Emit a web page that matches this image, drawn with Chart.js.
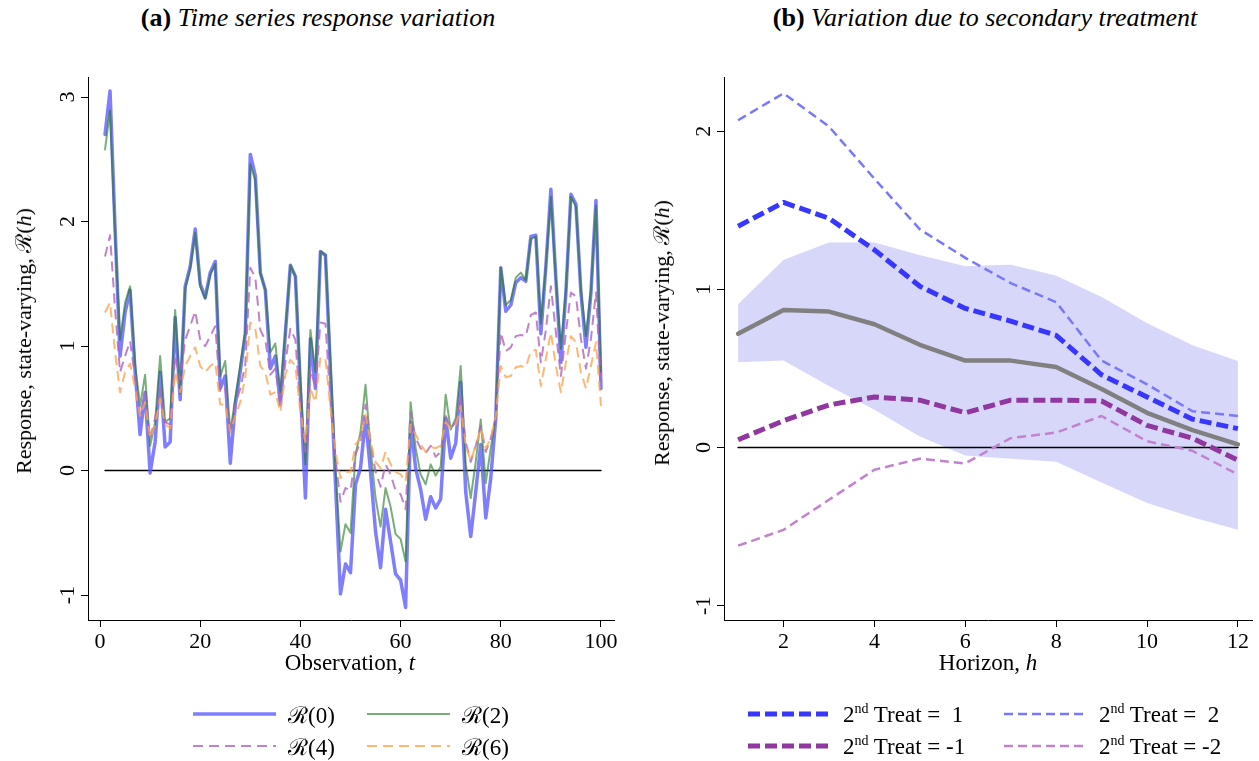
<!DOCTYPE html>
<html>
<head>
<meta charset="utf-8">
<script src="https://cdn.jsdelivr.net/npm/chart.js@4.4.1/dist/chart.umd.min.js"></script>
<style>
body { margin: 0; background: #fff; }
#page { position: relative; width: 1259px; height: 761px; overflow: hidden; font-family: "Liberation Serif", "DejaVu Serif", serif; color: #000; }
canvas { position: absolute; top: 60px; }
.lbl { position: absolute; white-space: nowrap; transform: translate(-50%, -50%); }
.ptitle { font-size: 26px; }
.axt { font-size: 23px; }
.axy { font-size: 22px; }
.roty { transform: translate(-50%, -50%) rotate(-90deg); }
.leg { position: absolute; font-size: 23px; white-space: nowrap; display: flex; align-items: center; }
.leg svg { margin-right: 12px; }
sup { font-size: 14px; }
</style>
</head>
<body>
<div id="page">
    <div class="lbl ptitle" style="left:318px;top:18px"><b>(a)</b> <i>Time series response variation</i></div>
    <div class="lbl ptitle" style="left:985px;top:18px"><b>(b)</b> <i>Variation due to secondary treatment</i></div>

    <canvas id="chartA" width="630" height="600" style="left:0px"></canvas>
    <canvas id="chartB" width="629" height="600" style="left:630px"></canvas>

    <div class="lbl axy roty" style="left:22px;top:341px">Response, state-varying, ℛ(<i>h</i>)</div>
    <div class="lbl axy roty" style="left:660px;top:333px">Response, state-varying, ℛ(<i>h</i>)</div>
    <div class="lbl axt" style="left:350px;top:663px">Observation, <i>t</i></div>
    <div class="lbl axt" style="left:988px;top:663px">Horizon, <i>h</i></div>

    <div id="legendA"></div>
    <div id="legendB"></div>
</div>

<script>
'use strict';

// panel (a): 100 observations
var obs = [];
for (var i = 1; i <= 100; i++) obs.push(i);

var r0 = [2.70, 3.05, 1.95, 0.92, 1.27, 1.45, 0.80, 0.29, 0.63, -0.02,
          0.23, 0.79, 0.19, 0.23, 1.23, 0.57, 1.48, 1.64, 1.94, 1.50,
          1.39, 1.59, 1.68, 0.66, 0.76, 0.06, 0.53, 0.80, 1.10, 2.54,
          2.37, 1.59, 1.45, 0.82, 0.92, 0.53, 1.10, 1.65, 1.56, 0.66,
          -0.22, 1.06, 0.66, 1.76, 1.73, 0.80, -0.10, -0.99, -0.75, -0.82,
          -0.11, 0.02, 0.42, -0.01, -0.49, -0.78, -0.31, -0.57, -0.83, -0.88,
          -1.10, 0.39, 0.02, -0.15, -0.39, -0.21, -0.30, -0.23, 0.42, 0.10,
          0.22, 0.71, -0.17, -0.53, -0.17, 0.21, -0.38, -0.06, 0.42, 1.63,
          1.28, 1.33, 1.51, 1.55, 1.52, 1.88, 1.89, 1.10, 1.64, 2.26,
          1.54, 0.87, 1.43, 2.22, 2.14, 1.43, 0.99, 1.43, 2.17, 0.66];

var r2 = [2.58, 2.89, 1.90, 1.05, 1.35, 1.48, 0.85, 0.52, 0.77, 0.20,
          0.39, 0.92, 0.39, 0.42, 1.29, 0.62, 1.46, 1.62, 1.91, 1.48,
          1.38, 1.57, 1.66, 0.76, 0.88, 0.31, 0.58, 0.85, 1.12, 2.46,
          2.33, 1.59, 1.45, 0.95, 1.02, 0.63, 1.12, 1.65, 1.56, 0.72,
          0.05, 1.13, 0.79, 1.76, 1.73, 0.88, 0.02, -0.65, -0.43, -0.50,
          0.13, 0.31, 0.69, 0.18, -0.22, -0.45, -0.14, -0.29, -0.51, -0.55,
          -0.73, 0.55, 0.18, -0.03, -0.11, 0.05, -0.04, 0.03, 0.61, 0.33,
          0.42, 0.84, 0.05, -0.22, 0.07, 0.41, -0.10, 0.18, 0.44, 1.63,
          1.33, 1.37, 1.55, 1.59, 1.53, 1.86, 1.88, 1.18, 1.64, 2.20,
          1.53, 0.98, 1.45, 2.20, 2.12, 1.45, 1.08, 1.45, 2.13, 0.79];

var r4 = [1.72, 1.89, 1.30, 0.79, 0.92, 1.04, 0.75, 0.45, 0.63, 0.26,
          0.42, 0.66, 0.39, 0.37, 0.92, 0.73, 1.05, 1.16, 1.28, 1.05,
          1.00, 1.08, 1.16, 0.63, 0.66, 0.31, 0.53, 0.66, 0.85, 1.63,
          1.55, 1.13, 1.05, 0.77, 0.82, 0.53, 0.87, 1.14, 1.05, 0.50,
          0.15, 0.82, 0.66, 1.19, 1.18, 0.55, 0.10, -0.25, -0.14, -0.16,
          0.13, 0.23, 0.53, 0.23, -0.01, -0.13, 0.05, -0.03, -0.16, -0.19,
          -0.31, 0.47, 0.26, 0.18, 0.14, 0.20, 0.11, 0.15, 0.44, 0.34,
          0.39, 0.60, 0.23, 0.07, 0.20, 0.36, 0.15, 0.26, 0.42, 1.11,
          0.96, 0.99, 1.08, 1.09, 1.08, 1.25, 1.27, 0.87, 1.13, 1.48,
          1.11, 0.76, 1.11, 1.43, 1.40, 1.06, 0.82, 1.06, 1.43, 0.68];

var r6 = [1.27, 1.35, 0.95, 0.63, 0.79, 0.86, 0.66, 0.44, 0.55, 0.26,
          0.37, 0.58, 0.37, 0.34, 0.79, 0.63, 0.84, 0.92, 0.99, 0.84,
          0.79, 0.84, 0.87, 0.53, 0.53, 0.31, 0.44, 0.55, 0.75, 1.19,
          1.14, 0.84, 0.79, 0.61, 0.63, 0.47, 0.77, 0.89, 0.84, 0.47,
          0.23, 0.66, 0.55, 0.91, 0.90, 0.50, 0.15, -0.06, -0.01, -0.01,
          0.21, 0.26, 0.45, 0.23, 0.07, 0.02, 0.15, 0.05, -0.01, -0.03,
          -0.09, 0.37, 0.29, 0.21, 0.15, 0.19, 0.18, 0.20, 0.39, 0.34,
          0.36, 0.52, 0.20, 0.08, 0.20, 0.34, 0.18, 0.26, 0.44, 0.84,
          0.75, 0.76, 0.83, 0.84, 0.83, 0.96, 0.97, 0.68, 0.90, 1.11,
          0.84, 0.63, 0.87, 1.08, 1.03, 0.79, 0.66, 0.84, 1.03, 0.52];

// panel (b): horizons 1..12
var horizon = [1, 2, 3, 4, 5, 6, 7, 8, 9, 10, 11, 12];
var baseline = [0.72, 0.87, 0.86, 0.78, 0.65, 0.55, 0.55, 0.51, 0.37, 0.22, 0.11, 0.02];
var bandHi   = [0.91, 1.19, 1.30, 1.30, 1.22, 1.15, 1.16, 1.09, 0.955, 0.79, 0.65, 0.55];
var bandLo   = [0.54, 0.55, 0.39, 0.24, 0.07, -0.05, -0.07, -0.09, -0.22, -0.35, -0.44, -0.52];
var treatP1  = [1.40, 1.55, 1.45, 1.25, 1.02, 0.88, 0.80, 0.71, 0.46, 0.32, 0.18, 0.12];
var treatP2  = [2.07, 2.24, 2.03, 1.70, 1.38, 1.20, 1.04, 0.92, 0.55, 0.40, 0.23, 0.20];
var treatM1  = [0.05, 0.17, 0.27, 0.32, 0.30, 0.22, 0.30, 0.30, 0.295, 0.14, 0.06, -0.08];
var treatM2  = [-0.62, -0.52, -0.33, -0.14, -0.07, -0.10, 0.06, 0.095, 0.20, 0.04, -0.02, -0.17];

var xTicksA = [0, 20, 40, 60, 80, 100];
var xTicksB = [2, 4, 6, 8, 10, 12];
var yTicks = [-1, 0, 1, 2, 3];

var FONT = '"Liberation Serif", "DejaVu Serif", serif';

var xy = function(xs, ys) {
    return ys.map(function(v, i) { return {x: xs[i], y: v}; });
};

var line = function(label, data, color, width, dash, order) {
    return {
        label: label,
        data: data,
        borderColor: color,
        backgroundColor: color,
        borderWidth: width,
        borderDash: dash || [],
        borderJoinStyle: 'round',
        borderCapStyle: dash ? 'butt' : 'round',
        pointRadius: 0,
        tension: 0,
        fill: false,
        order: order
    };
};

var axisX = function(min, max, ticks) {
    return {
        type: 'linear', min: min, max: max,
        border: {display: true, color: '#000', width: 1},
        grid: {display: true, drawOnChartArea: false, drawTicks: true, tickLength: 7, color: '#000'},
        afterBuildTicks: function(s) { s.ticks = ticks.map(function(v) { return {value: v}; }); },
        ticks: {color: '#000', font: {family: FONT, size: 22}, padding: 2, maxRotation: 0},
        afterFit: function(s) { s.height = 40; }
    };
};

var axisY = function(min, max, width) {
    return {
        type: 'linear', min: min, max: max,
        border: {display: true, color: '#000', width: 1},
        grid: {display: true, drawOnChartArea: false, drawTicks: true, tickLength: 7, color: '#000'},
        afterBuildTicks: function(s) { s.ticks = yTicks.filter(function(v) { return v >= min && v <= max; }).map(function(v) { return {value: v}; }); },
        ticks: {color: '#000', font: {family: FONT, size: 22}, padding: 4, minRotation: 90, maxRotation: 90, crossAlign: 'center'},
        afterFit: function(s) { s.width = width; }
    };
};

var common = function(padRight, padTop) {
    return {
        responsive: false,
        animation: false,
        devicePixelRatio: 1,
        layout: {padding: {left: 0, right: padRight, top: padTop, bottom: 0}},
        plugins: {legend: {display: false}, tooltip: {enabled: false}}
    };
};

var optsA = common(16, 13);
optsA.scales = {x: axisX(-2.4, 102.6, xTicksA), y: axisY(-1.2, 3.16, 88)};

new Chart(document.getElementById('chartA'), {
    type: 'line',
    data: {
        datasets: [
            line('zero', xy([1, 100], [0, 0]), '#000', 1.5, null, 5),
            line('ℛ(0)', xy(obs, r0), 'rgba(90,90,255,0.78)', 3.5, null, 4),
            line('ℛ(2)', xy(obs, r2), 'rgba(30,120,30,0.6)', 2, null, 3),
            line('ℛ(4)', xy(obs, r4), 'rgba(175,100,190,0.8)', 2, [10, 6], 2),
            line('ℛ(6)', xy(obs, r6), 'rgba(255,165,80,0.8)', 2, [10, 6], 1)
        ]
    },
    options: optsA
});

var optsB = common(7, 12);
optsB.scales = {x: axisX(0.69, 12.31, xTicksB), y: axisY(-1.09, 2.342, 94)};

var lo = line('lo', xy(horizon, bandLo), 'rgba(255,255,255,0.9)', 1, null, 10);
var hi = line('hi', xy(horizon, bandHi), 'rgba(255,255,255,0.9)', 1, null, 9);
hi.fill = '-1';
hi.backgroundColor = 'rgba(190,190,245,0.62)';

new Chart(document.getElementById('chartB'), {
    type: 'line',
    data: {
        datasets: [
            lo, hi,
            line('zero', xy([1, 12], [0, 0]), '#000', 1.5, null, 8),
            line('base', xy(horizon, baseline), 'rgb(128,128,128)', 4.5, null, 7),
            line('2nd Treat = -2', xy(horizon, treatM2), 'rgb(195,130,205)', 2.5, [9, 5], 6),
            line('2nd Treat = 2', xy(horizon, treatP2), 'rgb(120,120,255)', 2.5, [9, 5], 5),
            line('2nd Treat = -1', xy(horizon, treatM1), 'rgb(145,55,160)', 5, [12, 5], 4),
            line('2nd Treat = 1', xy(horizon, treatP1), 'rgb(55,55,255)', 5, [12, 5], 3)
        ]
    },
    options: optsB
});

// html legends with line samples
var legendItem = function(parent, x, y, color, width, dash, html) {
    var d = document.createElement('div');
    d.className = 'leg';
    d.style.left = x + 'px';
    d.style.top = (y - 15) + 'px';
    d.style.height = '30px';
    var svg = '<svg width="83" height="10"><line x1="0" y1="5" x2="83" y2="5" stroke="' + color +
        '" stroke-width="' + width + '"' + (dash ? ' stroke-dasharray="' + dash.join(',') + '"' : '') + '/></svg>';
    d.innerHTML = svg + '<span>' + html + '</span>';
    document.getElementById(parent).appendChild(d);
};

legendItem('legendA', 193, 714, 'rgba(90,90,255,0.78)', 3.5, null, 'ℛ(0)');
legendItem('legendA', 367, 714, 'rgba(30,120,30,0.6)', 2, null, 'ℛ(2)');
legendItem('legendA', 193, 746, 'rgba(175,100,190,0.8)', 2, [10, 6], 'ℛ(4)');
legendItem('legendA', 367, 746, 'rgba(255,165,80,0.8)', 2, [10, 6], 'ℛ(6)');

legendItem('legendB', 748, 714, 'rgb(55,55,255)', 5, [12, 5], '2<sup>nd</sup> Treat = &nbsp;1');
legendItem('legendB', 1004, 714, 'rgb(120,120,255)', 2.5, [9, 5], '2<sup>nd</sup> Treat = &nbsp;2');
legendItem('legendB', 748, 746, 'rgb(145,55,160)', 5, [12, 5], '2<sup>nd</sup> Treat = -1');
legendItem('legendB', 1004, 746, 'rgb(195,130,205)', 2.5, [9, 5], '2<sup>nd</sup> Treat = -2');
</script>
</body>
</html>
